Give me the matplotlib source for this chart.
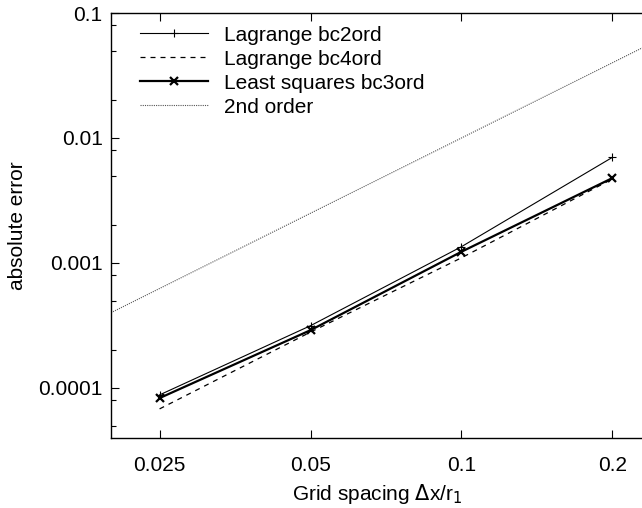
import matplotlib.pyplot as plt
from matplotlib.ticker import FixedLocator, FixedFormatter, LogLocator, NullFormatter

plt.rcParams['font.family'] = ['Liberation Sans', 'DejaVu Sans']

# grid spacings and absolute errors for each boundary scheme
dx = [0.025, 0.05, 0.1, 0.2]
err_lag2 = [8.8e-5, 3.15e-4, 1.35e-3, 7.0e-3]
err_lag4 = [6.8e-5, 2.8e-4, 1.1e-3, 4.7e-3]
err_ls3 = [8.3e-5, 2.9e-4, 1.23e-3, 4.78e-3]

# reference slope line (second order)
dx_ref = [0.02, 0.25]
err_ref = [4.0e-4, 6.25e-2]

xticks = [0.025, 0.05, 0.1, 0.2]
xticklabels = ['0.025', '0.05', '0.1', '0.2']
yticks = [1e-4, 1e-3, 1e-2, 1e-1]
yticklabels = ['0.0001', '0.001', '0.01', '0.1']

fig = plt.figure(figsize=(6.42, 5.08), dpi=100)
ax = fig.add_axes([0.1729, 0.1384, 0.8567, 0.836])

ax.plot(dx, err_lag2, color='black', lw=0.8, marker='+', ms=6, mew=0.8,
        label='Lagrange bc2ord')
ax.plot(dx, err_lag4, color='black', lw=0.9, ls=(0, (4, 4)),
        label='Lagrange bc4ord')
ax.plot(dx, err_ls3, color='black', lw=1.6, marker='x', ms=6, mew=1.6,
        label='Least squares bc3ord')
ax.plot(dx_ref, err_ref, color='#555555', lw=0.8, ls=(0, (1, 1)),
        label='2nd order')

ax.set_xscale('log')
ax.set_yscale('log')
ax.set_xlim(0.02, 0.25)
ax.set_ylim(4.0e-5, 0.1)

ax.xaxis.set_major_locator(FixedLocator(xticks))
ax.xaxis.set_major_formatter(FixedFormatter(xticklabels))
ax.xaxis.set_minor_locator(FixedLocator([]))
ax.yaxis.set_major_locator(FixedLocator(yticks))
ax.yaxis.set_major_formatter(FixedFormatter(yticklabels))
ax.yaxis.set_minor_locator(LogLocator(base=10, subs=(2, 5, 8)))
ax.yaxis.set_minor_formatter(NullFormatter())

ax.tick_params(which='both', direction='in', top=True, right=True,
               labelsize=15, width=0.8)
ax.tick_params(axis='x', pad=13)
ax.tick_params(axis='y', pad=6)
ax.tick_params(which='major', length=6)
ax.tick_params(which='minor', length=3.5)
for s in ax.spines.values():
    s.set_linewidth(1.0)

ax.set_xlabel('Grid spacing $\\Delta$x/r$_1$', fontsize=15)
ax.xaxis.set_label_coords(0.484, -0.104)
ax.set_ylabel('absolute error', fontsize=15)
ax.yaxis.set_label_coords(-0.153, 0.5)

ax.legend(loc='upper left', frameon=False, fontsize=15, handlelength=3.27,
          handletextpad=0.77, labelspacing=0.24, borderaxespad=0.2,
          bbox_to_anchor=(0.03, 1.0))

plt.savefig('out.png', dpi=100)
